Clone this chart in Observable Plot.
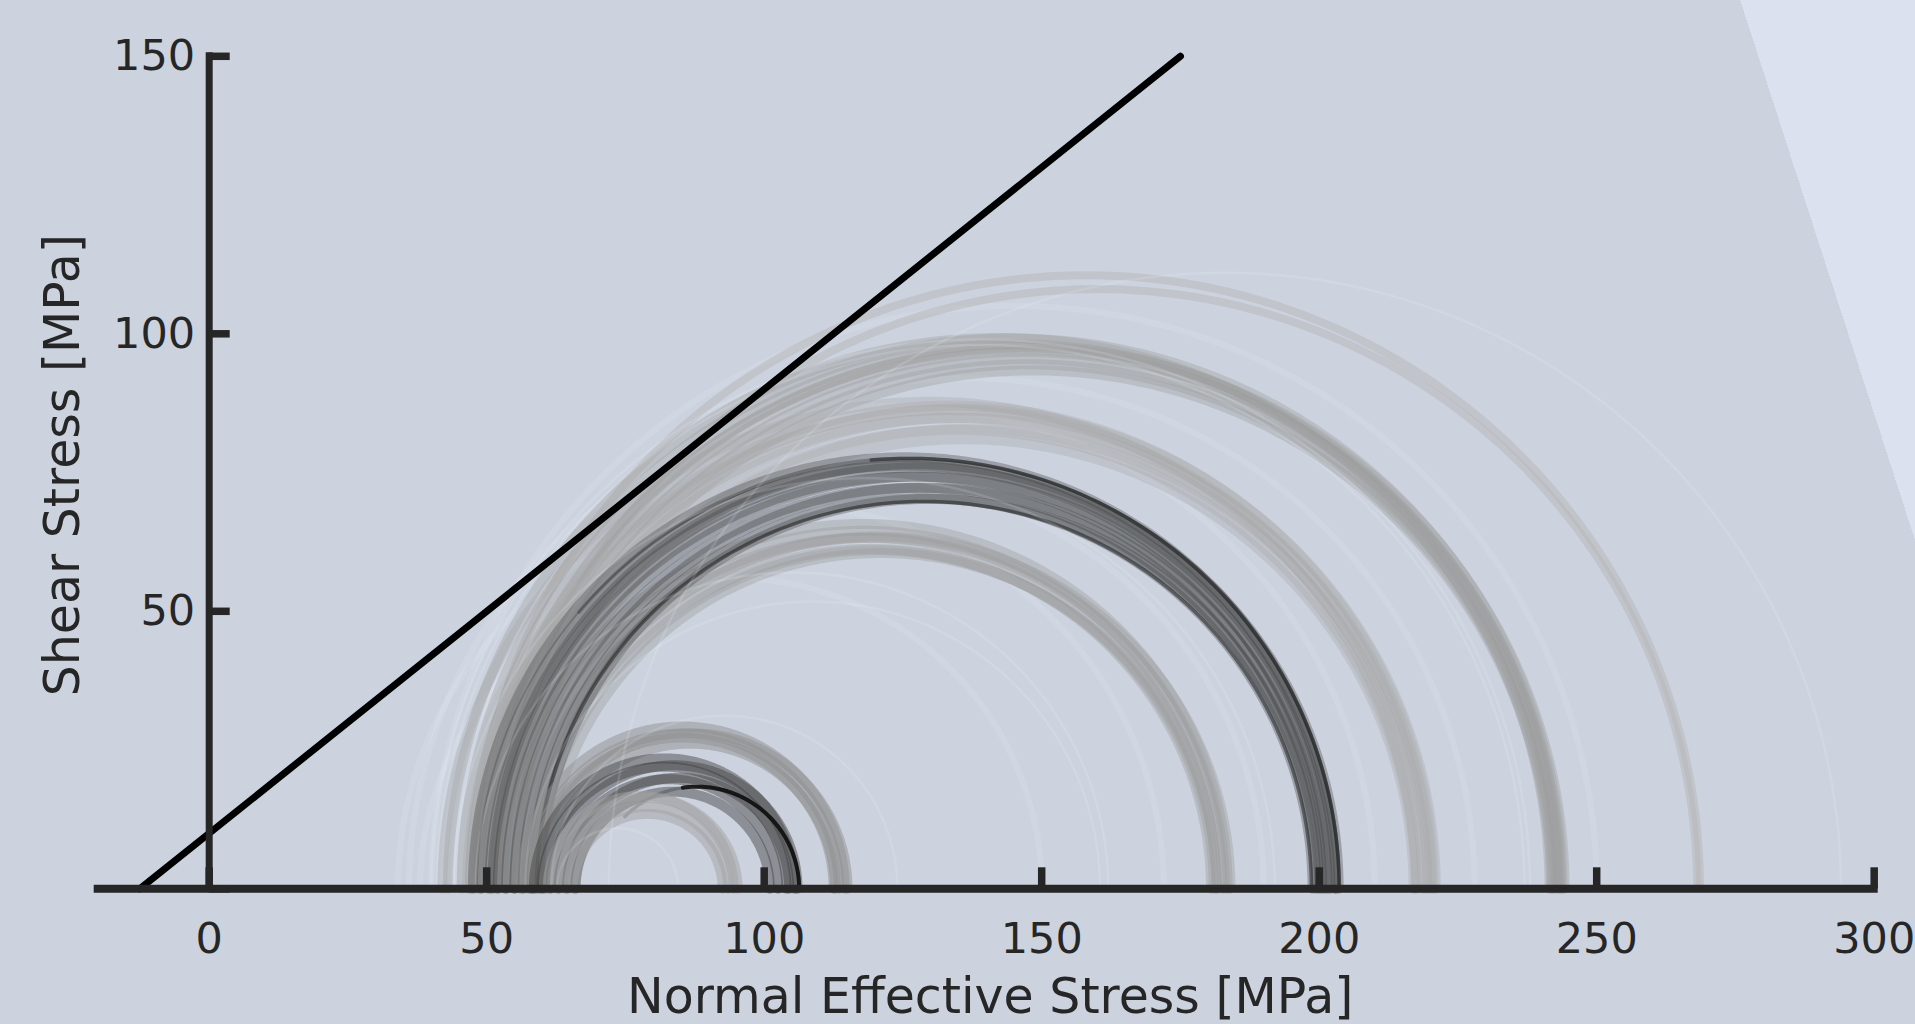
<!DOCTYPE html>
<html>
<head>
<meta charset="utf-8">
<script src="https://cdn.jsdelivr.net/npm/d3@7"></script>
<script src="https://cdn.jsdelivr.net/npm/@observablehq/plot@0.6"></script>
<style>
html, body { margin: 0; padding: 0; }
#wrap { width: 1915px; height: 1024px; overflow: hidden;
  background: linear-gradient(72.05deg, #ccd3df 1971px, #dbe1ee 1971px); }
#wrap svg { display: block; }
</style>
</head>
<body>
<div id="wrap"></div>
<script>
// ---- axes ----
const xDomain = [-20, 300];
const yDomain = [0, 150];
const xTicks = [0, 50, 100, 150, 200, 250, 300];
const yTicks = [0, 50, 100, 150];
const yTickLabels = [50, 100, 150];
const xLabel = "Normal Effective Stress [MPa]";
const yLabel = "Shear Stress [MPa]";

// ---- failure envelope (tau = 10 + 0.8 sigma) ----
const failureSigma = [-12.5, 175];
const failureTau = [0, 150];

// ---- Mohr circles: least (sigma3) and greatest (sigma1) effective stress, group ----
const circleSigma3 = [
  34, 36, 38, 40, 42, 44,                                   // g0 faint haze
  47.5, 52,                                                 // g1 ~268
  45.5, 47, 48.5, 50, 51.5, 53, 55, 49, 43,                 // g2 ~243
  47, 48, 49, 50.5, 52, 53.5, 55, 46.5, 42,                 // g3 ~219
  52, 53.5, 55, 56.5, 58, 60.5, 59, 57,                     // g4 ~181
  47.5, 49, 50.5, 52, 53.5, 55, 56.5, 58, 59.5, 51,         // g5 ~201
  59, 48.5,                                                 // g6 ~201 dark edges
  56, 57.5, 59, 60.5, 58,                                   // g7 ~114
  58.5, 60, 61.5, 63, 64.5, 66,                             // g8 ~105
  69.5,                                                     // g9 ~106 black
  61, 62.5, 64, 65.5,                                       // g10 ~95
  72, 40, 44, 48, 61.6, 62.7, 57, 41,                       // g11 light arcs
  48.5, 69.5                                                // g12 fading dark edges
];
const circleSigma1 = [
  172, 210, 150, 250, 190, 228,
  268.6, 268.1,
  243.8, 243.2, 242.9, 243.5, 242.4, 242.0, 241.8, 244.2, 241.5,
  219.5, 221.0, 218.6, 220.2, 217.4, 219.2, 217.0, 220.6, 217.5,
  183.5, 182.5, 181.5, 183, 180.5, 181.5, 181, 184,
  203, 201.5, 203.5, 200.5, 202, 199.5, 201, 198.8, 200, 202.8,
  198.6, 203.6,
  114.5, 113.5, 115, 112.8, 112.5,
  105.5, 104, 106, 102.5, 104.5, 101,
  106.3,
  94.5, 95.2, 93.5, 92.5,
  294, 238, 192, 162, 124, 84.5, 160.5, 237,
  203.6, 106.3
];
const circleGroup = [
  0, 0, 0, 0, 0, 0,
  1, 1,
  2, 2, 2, 2, 2, 2, 2, 2, 2,
  3, 3, 3, 3, 3, 3, 3, 3, 3,
  4, 4, 4, 4, 4, 4, 4, 4,
  5, 5, 5, 5, 5, 5, 5, 5, 5, 5,
  6, 6,
  7, 7, 7, 7, 7,
  8, 8, 8, 8, 8, 8,
  9,
  10, 10, 10, 10,
  11, 11, 11, 11, 11, 11, 11, 11,
  12, 12
];
// arcs that are only visible over part of their sweep: [sigma3, sigma1] -> degrees from sigma1
const partialArcSigma3 = [48.5, 69.5];
const partialArcSweep = {6: [95, 98], 12: [140, 135]};

// ---- styles per group ----
const groupColor   = ["#dde2ea", "#b8b8b8", "#9a9a9a", "#a8a8a8", "#9a9a9a", "#404040", "#151515", "#8e8e8e", "#3e3e3e", "#0a0a0a", "#a0a0a0", "#f2f5fa", "#1a1a1a"];
const groupOpacity = [0.3, 0.55, 0.36, 0.34, 0.38, 0.34, 0.5, 0.48, 0.45, 0.85, 0.48, 0.14, 0.3];
const groupWidth   = [6, 8, 10, 10, 10, 10, 3.5, 10, 10, 4, 10, 2.5, 3.5];

const axisColor = "#262626";
const textColor = "#262626";

const circles = circleSigma3.map((s3, i) => {
  const g = circleGroup[i];
  let sweep = 180;
  if (g === 9) sweep = partialArcSweep[6][1];
  if (g === 6 && s3 === partialArcSigma3[0]) sweep = partialArcSweep[6][0];
  if (g === 12) sweep = partialArcSweep[12][partialArcSigma3.indexOf(s3)];
  return {id: i, s3, s1: circleSigma1[i], group: g, sweep};
});
function arc(c) {
  const center = (c.s1 + c.s3) / 2, r = (c.s1 - c.s3) / 2;
  const n = Math.round(c.sweep * 4 / 3);
  return d3.range(0, n + 1).map(k => {
    const t = (c.sweep * Math.PI / 180) * k / n;
    return {id: c.id, sigma: center + r * Math.cos(t), tau: r * Math.sin(t)};
  });
}
const drawOrder = [0, 1, 2, 3, 4, 5, 12, 6, 7, 8, 9, 10, 11];
const arcMarks = drawOrder.map(g => Plot.line(
  circles.filter(c => c.group === g).flatMap(arc),
  {x: "sigma", y: "tau", z: "id", stroke: groupColor[g], strokeOpacity: groupOpacity[g], strokeWidth: groupWidth[g]}
));

const failure = failureSigma.map((s, i) => ({sigma: s, tau: failureTau[i]}));

const chart = Plot.plot({
  width: 1915,
  height: 1024,
  marginLeft: 97.7,
  marginRight: 41.3,
  marginTop: 55.8,
  marginBottom: 135.7,
  x: {domain: xDomain, axis: null},
  y: {domain: yDomain, axis: null},
  style: {background: "transparent", fontFamily: "DejaVu Sans", overflow: "visible"},
  marks: [
    ...arcMarks,
    Plot.line(failure, {x: "sigma", y: "tau", stroke: "#000000", strokeWidth: 7}),
    Plot.ruleY([0], {x1: xDomain[0], x2: xDomain[1], stroke: axisColor, strokeWidth: 8, strokeLinecap: "square"}),
    Plot.ruleX([0], {y1: yDomain[0], y2: yDomain[1], stroke: axisColor, strokeWidth: 7, strokeLinecap: "square"}),
    Plot.ruleX(xTicks, {x: d => d, y1: 0, y2: 0, insetTop: -21, stroke: axisColor, strokeWidth: 7.5}),
    Plot.ruleY(yTicks, {y: d => d, x1: 0, x2: 0, insetRight: -21, stroke: axisColor, strokeWidth: 7.5}),
    Plot.text(xTicks, {x: d => d, y: 0, text: d => String(d), lineAnchor: "top", dy: 34, fontSize: 43, fill: textColor}),
    Plot.text(yTickLabels, {x: 0, y: d => d, text: d => String(d), textAnchor: "end", lineAnchor: "middle", dx: -14, fontSize: 43, fill: textColor}),
    Plot.text([xLabel], {frameAnchor: "bottom", text: d => d, textAnchor: "middle", lineAnchor: "top", dy: 89, dx: 4, fontSize: 49, fill: textColor}),
    Plot.text([yLabel], {frameAnchor: "left", text: d => d, rotate: -90, textAnchor: "middle", lineAnchor: "middle", dx: -34.4, dy: -7.3, fontSize: 49, fill: textColor})
  ]
});
document.getElementById("wrap").appendChild(chart);
</script>
</body>
</html>
